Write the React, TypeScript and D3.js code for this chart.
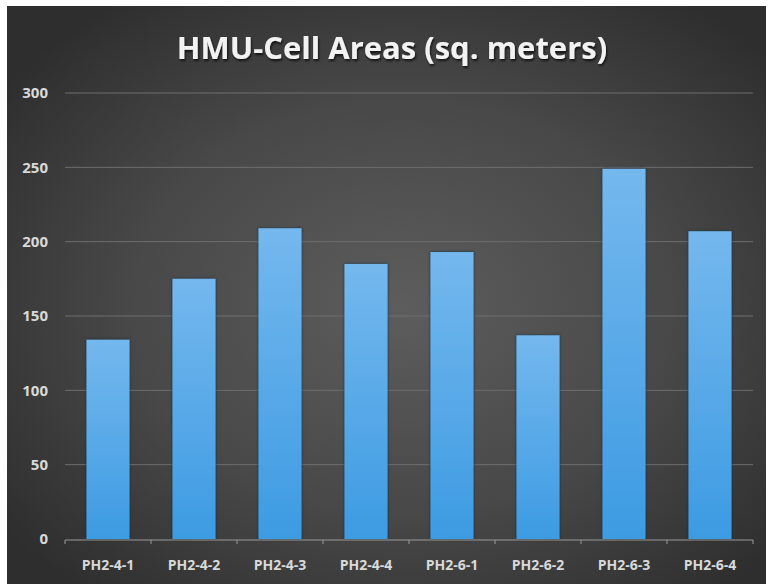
import React from "react";
import * as d3 from "d3";

const categories = ["PH2-4-1", "PH2-4-2", "PH2-4-3", "PH2-4-4", "PH2-6-1", "PH2-6-2", "PH2-6-3", "PH2-6-4"];
const areas = [134, 175, 209, 185, 193, 137, 249, 207];
const yTicks = [0, 50, 100, 150, 200, 250, 300];
const title = "HMU-Cell Areas (sq. meters)";

const W = 770;
const H = 584;
const plot = { left: 65, right: 753, top: 93, bottom: 539 };
const font = "'Open Sans', Lato, 'DejaVu Sans', sans-serif";

export default function App() {
  const x = d3
    .scaleBand<string>()
    .domain(categories)
    .range([plot.left, plot.right])
    .paddingInner(0.5)
    .paddingOuter(0.25);
  const y = d3.scaleLinear().domain([0, 300]).range([plot.bottom, plot.top]);
  const step = x.step();
  const boundaries = d3.range(categories.length + 1).map((i) => plot.left + i * step);

  return (
    <svg
      width={W}
      height={H}
      style={{ position: "absolute", left: 0, top: 0, display: "block" }}
    >
      <defs>
        <radialGradient id="bg" cx="52%" cy="52%" r="65%">
          <stop offset="0%" stopColor="#5d5d5d" />
          <stop offset="55%" stopColor="#484848" />
          <stop offset="100%" stopColor="#2e2e2e" />
        </radialGradient>
        <linearGradient id="barFill" x1="0" y1="0" x2="0" y2="1">
          <stop offset="0%" stopColor="#74b8ee" />
          <stop offset="100%" stopColor="#3d9be2" />
        </linearGradient>
        <filter id="barShadow" x="-30%" y="-10%" width="160%" height="120%">
          <feGaussianBlur in="SourceAlpha" stdDeviation="1.6" />
          <feOffset dx="0" dy="0" result="b" />
          <feFlood floodColor="#0d2a45" floodOpacity="0.9" />
          <feComposite in2="b" operator="in" />
          <feMerge>
            <feMergeNode />
            <feMergeNode in="SourceGraphic" />
          </feMerge>
        </filter>
        <filter id="textShadow" x="-10%" y="-30%" width="120%" height="160%">
          <feGaussianBlur in="SourceAlpha" stdDeviation="1.2" />
          <feOffset dx="1" dy="1.5" result="s" />
          <feFlood floodColor="#000" floodOpacity="0.7" />
          <feComposite in2="s" operator="in" />
          <feMerge>
            <feMergeNode />
            <feMergeNode in="SourceGraphic" />
          </feMerge>
        </filter>
      </defs>

      <rect x={0} y={0} width={W} height={H} fill="#ffffff" />
      <rect x={7} y={6} width={W - 11} height={H - 6} fill="url(#bg)" />

      <text
        x={392}
        y={59}
        textAnchor="middle"
        fill="#f2f2f2"
        fontFamily={font}
        fontWeight={700}
        fontSize={31}
        filter="url(#textShadow)"
      >
        {title}
      </text>

      {/* horizontal gridlines */}
      {yTicks
        .filter((t) => t > 0)
        .map((t) => (
          <line
            key={`g${t}`}
            x1={plot.left}
            x2={plot.right}
            y1={y(t)}
            y2={y(t)}
            stroke="#6e6e6e"
            strokeWidth={1}
          />
        ))}

      {/* y-axis labels */}
      {yTicks.map((t) => (
        <text
          key={`yl${t}`}
          x={48}
          y={y(t)}
          dy="0.35em"
          textAnchor="end"
          fill="#d9d9d9"
          fontFamily={font}
          fontWeight={700}
          fontSize={15}
        >
          {t}
        </text>
      ))}

      {/* bars */}
      {categories.map((c, i) => (
        <rect
          key={c}
          x={x(c)}
          y={y(areas[i])}
          width={x.bandwidth()}
          height={y(0) - y(areas[i])}
          fill="url(#barFill)"
          filter="url(#barShadow)"
        />
      ))}

      {/* x axis */}
      <line
        x1={plot.left}
        x2={plot.right}
        y1={y(0) + 1}
        y2={y(0) + 1}
        stroke="#9a9a9a"
        strokeWidth={1.2}
      />
      {boundaries.map((bx, i) => (
        <line
          key={`t${i}`}
          x1={bx}
          x2={bx}
          y1={y(0) + 1}
          y2={y(0) + 5}
          stroke="#9a9a9a"
          strokeWidth={1}
        />
      ))}

      {categories.map((c) => (
        <text
          key={`xl${c}`}
          x={(x(c) ?? 0) + x.bandwidth() / 2}
          y={570}
          textAnchor="middle"
          fill="#d9d9d9"
          fontFamily={font}
          fontWeight={700}
          fontSize={14}
        >
          {c}
        </text>
      ))}
    </svg>
  );
}
